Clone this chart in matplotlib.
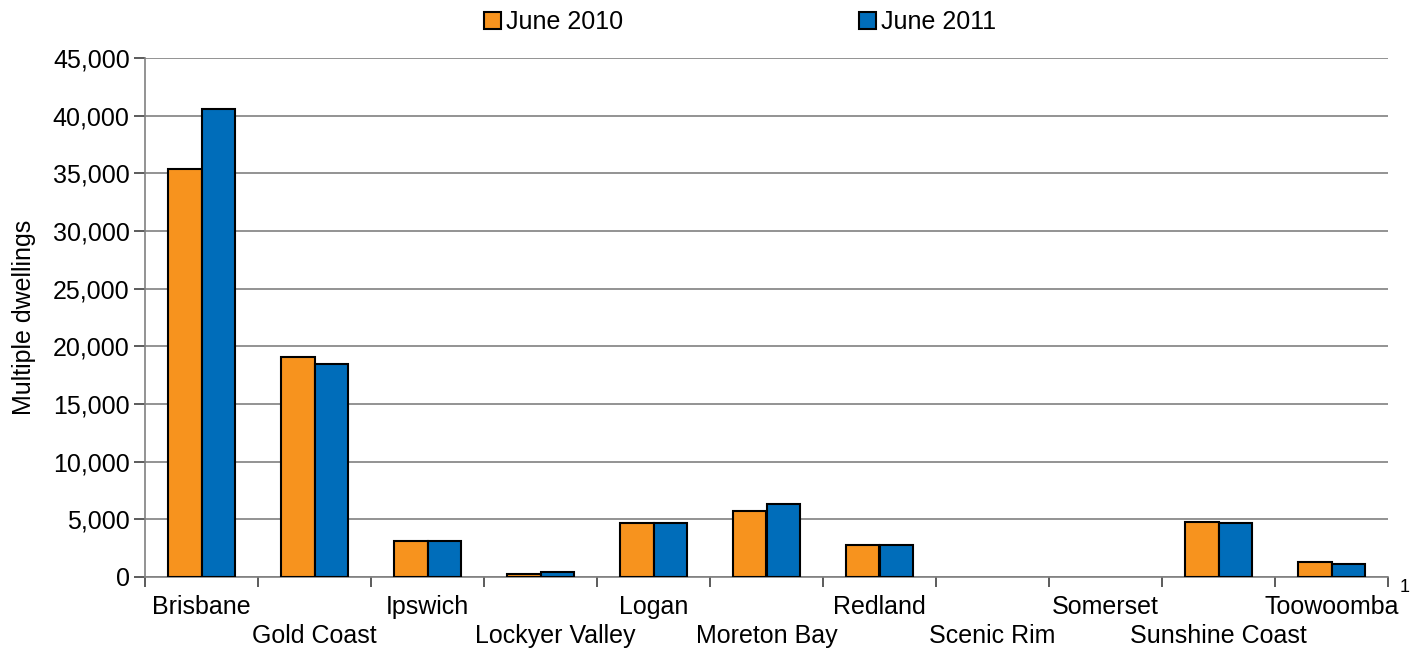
import numpy as np
import matplotlib
matplotlib.use("Agg")
import matplotlib.pyplot as plt
from matplotlib.ticker import FuncFormatter, MultipleLocator
from matplotlib.transforms import ScaledTranslation

plt.rcParams["font.family"] = ["Liberation Sans", "DejaVu Sans"]

regions = ["Brisbane", "Gold Coast", "Ipswich", "Lockyer Valley", "Logan",
           "Moreton Bay", "Redland", "Scenic Rim", "Somerset",
           "Sunshine Coast", "Toowoomba"]
june_2010 = [35400, 19100, 3150, 230, 4650, 5750, 2750, 0, 0, 4800, 1300]
june_2011 = [40600, 18500, 3150, 400, 4650, 6300, 2750, 0, 0, 4650, 1100]

ORANGE = "#f7931e"
BLUE = "#006dba"
GRID = "#808080"
FS = 18

fig = plt.figure(figsize=(14.15, 6.48), dpi=100)
ax = fig.add_axes([145 / 1415, 1 - 577 / 648, (1388 - 145) / 1415, (577 - 58) / 648])

x = np.arange(len(regions))
w = 0.3
for vals, off, col, lab in [(june_2010, -w / 2, ORANGE, "June 2010"),
                            (june_2011, w / 2, BLUE, "June 2011")]:
    lw = [1.5 if v > 0 else 0 for v in vals]
    ax.bar(x + off, vals, w, color=col, edgecolor="black", linewidth=lw,
           label=lab, zorder=3)

ax.set_xlim(-0.5, len(regions) - 0.5)
ax.set_ylim(0, 45000)
ax.yaxis.set_major_locator(MultipleLocator(5000))
ax.yaxis.set_major_formatter(FuncFormatter(lambda v, p: f"{int(v):,}"))
ax.grid(axis="y", color=GRID, linewidth=1.2, zorder=0)

for s in ["top", "right"]:
    ax.spines[s].set_visible(False)
for s in ["left", "bottom"]:
    ax.spines[s].set_color(GRID)
    ax.spines[s].set_linewidth(1.2)

# category ticks between groups, labels centred and staggered
ax.set_xticks(np.arange(len(regions) + 1) - 0.5)
ax.set_xticklabels([])
ax.tick_params(axis="x", length=7, color="#404040", width=1.2)
ax.set_xticks(x, minor=True)
ax.set_xticklabels(regions, minor=True, fontsize=FS)
ax.tick_params(axis="x", which="minor", length=0, pad=13)
for i, lbl in enumerate(ax.get_xticklabels(minor=True)):
    if i % 2 == 1:
        lbl.set_y(-0.056)
    if regions[i] == "Lockyer Valley":
        # the original nudges this one a little to the right
        lbl.set_transform(lbl.get_transform()
                          + ScaledTranslation(0.15, 0, fig.dpi_scale_trans))

ax.tick_params(axis="y", length=8, color="#404040", width=1.2, labelsize=FS, pad=3)
ax.set_ylabel("Multiple dwellings", fontsize=FS, labelpad=12)

fig.legend(loc="center", bbox_to_anchor=(740 / 1415, 1 - 22 / 648), ncol=2,
           frameon=False, fontsize=FS, handlelength=0.68, handleheight=0.68,
           handletextpad=0.2, columnspacing=9.4, borderpad=0)

fig.text(1405 / 1415, 1 - 588 / 648, "1", fontsize=13, ha="center", va="center")

fig.savefig("out.png", dpi=100)
